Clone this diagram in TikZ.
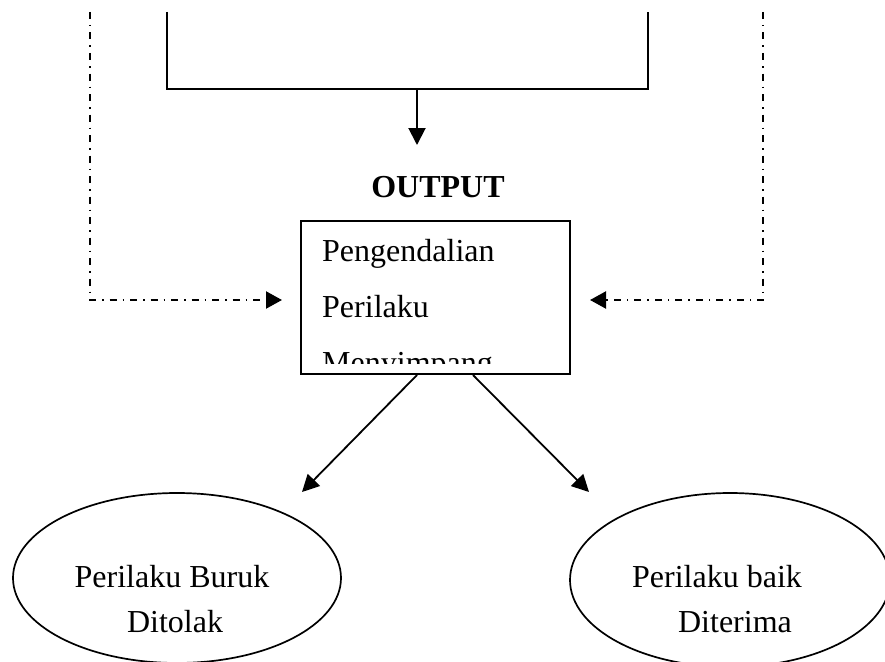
\documentclass[tikz,border=0pt]{standalone}
\usepackage{fontspec}
\setmainfont{Liberation Serif}
\usetikzlibrary{arrows.meta,shapes.geometric}
\begin{document}
\begin{tikzpicture}[x=1pt,y=-1pt,
  solidline/.style={line width=2pt},
  tipped/.style={-{Triangle[length=17pt,width=17pt]}},
  dashdot/.style={line width=2.2pt, dash pattern=on 7pt off 6pt on 1.5pt off 6pt},
  lbl/.style={font=\fontsize{32}{38}\selectfont, inner sep=0pt, anchor=base},
  oval/.style={draw, ellipse, line width=1.7pt, inner sep=0pt}]
\useasboundingbox (0,0) rectangle (885,661);

% top open box
\coordinate (tl) at (167,12);
\coordinate (tbl) at (167,89);
\coordinate (tbr) at (648,89);
\coordinate (tr) at (648,12);
\draw[solidline] (tl) -- (tbl) -- (tbr) -- (tr);
\coordinate (tarrs) at (417,89);
\coordinate (tarre) at (417,145);
\draw[solidline,tipped] (tarrs) -- (tarre);

% OUTPUT label
\node[lbl, font=\fontsize{32}{38}\selectfont\bfseries] (out) at (438,197) {OUTPUT};

% output box
\node[draw, line width=2pt, minimum width=269pt, minimum height=153pt, inner sep=0pt] (box) at (435.5,297.5) {};
\begin{scope}
  \clip (301,221) rectangle (570,363);
  \node[lbl, anchor=base west] (t1) at (322,261) {Pengendalian};
  \node[lbl, anchor=base west] (t2) at (322,317) {Perilaku};
  \node[lbl, anchor=base west] (t3) at (322,373) {Menyimpang};
\end{scope}

% dash-dot feedback lines
\coordinate (ldt) at (90,12);
\coordinate (ldb) at (90,300);
\coordinate (lde) at (282,300);
\draw[dashdot, -{Triangle[length=16pt,width=17pt]}] (ldt) -- (ldb) -- (lde);
\coordinate (rdt) at (763,12);
\coordinate (rdb) at (763,300);
\coordinate (rde) at (590,300);
\draw[dashdot, -{Triangle[length=16pt,width=17pt]}] (rdt) -- (rdb) -- (rde);

% ellipses
\node[oval, minimum width=328pt, minimum height=170pt] (bad) at (177,578) {};
\node[oval, minimum width=320pt, minimum height=174pt] (good) at (730,580) {};
\node[lbl] (b1) at (172,587) {Perilaku Buruk};
\node[lbl] (b2) at (175,632) {Ditolak};
\node[lbl] (g1) at (717,587) {Perilaku baik};
\node[lbl] (g2) at (735,632) {Diterima};

% arrows from box
\coordinate (as1) at (417,375);
\coordinate (ae1) at (302,492);
\coordinate (as2) at (473,375);
\coordinate (ae2) at (589,492);
\draw[line width=1.8pt, tipped] (as1) -- (ae1);
\draw[line width=1.8pt, tipped] (as2) -- (ae2);
\end{tikzpicture}
\end{document}
